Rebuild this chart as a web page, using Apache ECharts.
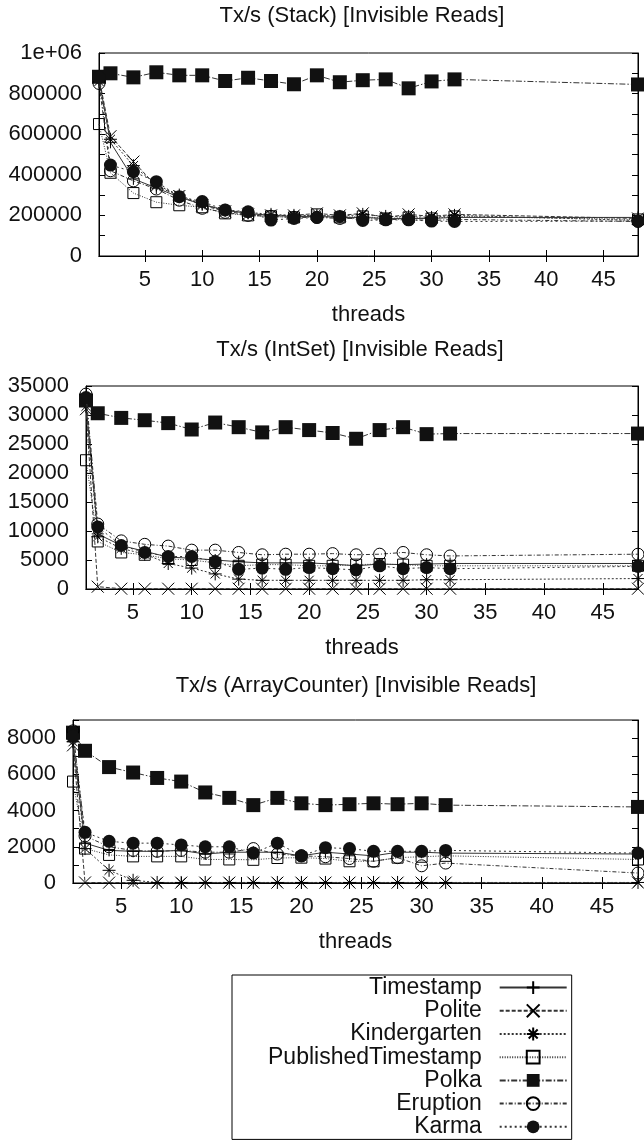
<!DOCTYPE html>
<html>
<head>
<meta charset="utf-8">
<script src="https://cdn.jsdelivr.net/npm/echarts@6/dist/echarts.min.js"></script>
<style>
html,body{margin:0;padding:0;background:#fff;}
#chart{width:644px;height:1140px;}
</style>
</head>
<body>
<div id="chart"></div>
<script>
// ---- data ----
const threads = [1, 2, 4, 6, 8, 10, 12, 14, 16, 18, 20, 22, 24, 26, 28, 30, 32, 48];
const seriesNames = ['Timestamp', 'Polite', 'Kindergarten', 'PublishedTimestamp', 'Polka', 'Eruption', 'Karma'];
const plotTitles = ['Tx/s (Stack) [Invisible Reads]', 'Tx/s (IntSet) [Invisible Reads]', 'Tx/s (ArrayCounter) [Invisible Reads]'];
const xAxisName = 'threads';
const xTicks = [5, 10, 15, 20, 25, 30, 35, 40, 45];

// Stack
const timestampStack = [870000, 560000, 380000, 335000, 290000, 255000, 225000, 210000, 200000, 195000, 195000, 190000, 190000, 185000, 185000, 185000, 190000, 190000];
const politeStack = [880000, 590000, 465000, 345000, 295000, 250000, 220000, 205000, 200000, 200000, 210000, 200000, 210000, 190000, 205000, 195000, 205000, 185000];
const kinderStack = [860000, 575000, 445000, 350000, 300000, 255000, 225000, 215000, 205000, 200000, 200000, 195000, 205000, 195000, 195000, 190000, 200000, 175000];
const pubStack = [650000, 410000, 310000, 265000, 250000, 240000, 210000, 200000, 195000, 190000, 205000, 190000, 195000, 185000, 190000, 185000, 195000, 180000];
const polkaStack = [883000, 900000, 880000, 905000, 890000, 890000, 862000, 878000, 862000, 846000, 890000, 856000, 866000, 870000, 826000, 860000, 870000, 845000];
const eruptionStack = [850000, 420000, 370000, 330000, 275000, 235000, 215000, 200000, 195000, 190000, 190000, 185000, 185000, 180000, 180000, 175000, 180000, 170000];
const karmaStack = [880000, 448000, 415000, 366000, 292000, 268000, 227000, 218000, 177000, 185000, 190000, 195000, 175000, 178000, 178000, 172000, 170000, 172000];

// IntSet
const timestampInt = [32000, 9500, 7500, 6500, 5500, 5300, 5000, 4700, 4500, 4500, 4500, 4300, 4000, 4300, 4200, 4300, 4400, 4400];
const politeInt = [31000, 400, 50, 50, 50, 50, 50, 50, 50, 50, 50, 50, 50, 50, 50, 50, 50, 50];
const kinderInt = [31500, 9000, 7000, 6000, 4400, 3600, 2600, 1700, 1500, 1500, 1500, 1500, 1500, 1500, 1500, 1600, 1600, 1800];
const pubInt = [22200, 8200, 6300, 5900, 5200, 5000, 4500, 4000, 4200, 4200, 4000, 4000, 4200, 4300, 4200, 4000, 4000, 4000];
const polkaInt = [32500, 30300, 29500, 29100, 28600, 27500, 28700, 27900, 27000, 27900, 27400, 26900, 25900, 27400, 27900, 26700, 26800, 26800];
const eruptionInt = [33600, 11200, 8300, 7700, 7400, 6700, 6700, 6300, 5900, 6000, 6000, 6100, 5900, 6000, 6300, 5900, 5700, 6000];
const karmaInt = [33000, 10700, 7500, 6300, 5600, 5600, 4700, 3400, 3600, 3400, 3700, 3500, 3300, 4000, 3500, 3700, 3500, 3900];

// ArrayCounter
const timestampArr = [7800, 2200, 1800, 1750, 1750, 1800, 1600, 1700, 1700, 1700, 1500, 1700, 1600, 1500, 1700, 1700, 1650, 1600];
const politeArr = [7600, 30, 20, 20, 20, 20, 20, 20, 20, 20, 20, 20, 20, 20, 20, 20, 20, 20];
const kinderArr = [7800, 1900, 700, 150, 30, 30, 30, 30, 30, 30, 30, 30, 30, 30, 30, 30, 30, 30];
const pubArr = [5600, 1900, 1550, 1470, 1470, 1470, 1300, 1300, 1280, 1380, 1400, 1350, 1200, 1200, 1400, 1450, 1500, 1300];
const polkaArr = [8300, 7300, 6400, 6100, 5800, 5600, 5000, 4700, 4300, 4700, 4400, 4300, 4350, 4400, 4350, 4400, 4300, 4200];
const eruptionArr = [8400, 2600, 2000, 1800, 1750, 1800, 1700, 1700, 1900, 1600, 1500, 1450, 1350, 1200, 1400, 950, 1100, 550];
const karmaArr = [8100, 2800, 2300, 2200, 2200, 2100, 2000, 2000, 1650, 2200, 1500, 1950, 1900, 1750, 1750, 1750, 1800, 1650];

// y-axis ticks and labels
const stackYTicks = [0, 100000, 200000, 300000, 400000, 500000, 600000, 700000, 800000, 900000, 1000000];
const stackYLabels = [0, 200000, 400000, 600000, 800000, 1000000];
const intYTicks = [0, 5000, 10000, 15000, 20000, 25000, 30000, 35000];
const intYLabels = [0, 5000, 10000, 15000, 20000, 25000, 30000, 35000];
const arrYTicks = [0, 1000, 2000, 3000, 4000, 5000, 6000, 7000, 8000, 9000];
const arrYLabels = [0, 2000, 4000, 6000, 8000];

// ---- presentation ----
const FONT = '"Liberation Sans", Arial, Helvetica, sans-serif';
const plots = [
  { vals: [timestampStack, politeStack, kinderStack, pubStack, polkaStack, eruptionStack, karmaStack], yMax: 1000000, yTicks: stackYTicks, yLabels: stackYLabels,
    grid: { left: 99, top: 53, width: 539, height: 203 }, titleTop: 5, titleX: 362 },
  { vals: [timestampInt, politeInt, kinderInt, pubInt, polkaInt, eruptionInt, karmaInt], yMax: 35000, yTicks: intYTicks, yLabels: intYLabels,
    grid: { left: 86, top: 386, width: 552, height: 203 }, titleTop: 339, titleX: 360 },
  { vals: [timestampArr, politeArr, kinderArr, pubArr, polkaArr, eruptionArr, karmaArr], yMax: 9000, yTicks: arrYTicks, yLabels: arrYLabels,
    grid: { left: 73, top: 720, width: 565, height: 163 }, titleTop: 675, titleX: 356 }
];

const LINE = '#333';
const styles = [
  { symbol: 'path://M6,0L6,12M0,6L12,6', size: 12, item: { color: 'transparent', borderColor: '#000', borderWidth: 1 }, line: 'solid' },
  { symbol: 'path://M0,0L12,12M12,0L0,12', size: 12, item: { color: 'transparent', borderColor: '#000', borderWidth: 1 }, line: [4, 2] },
  { symbol: 'path://M6,0L6,12M0,6L12,6M1.8,1.8L10.2,10.2M10.2,1.8L1.8,10.2', size: 13, item: { color: 'transparent', borderColor: '#000', borderWidth: 1 }, line: [2, 2] },
  { symbol: 'rect', size: 11, item: { color: 'transparent', borderColor: '#000', borderWidth: 1 }, line: [1, 1.5] },
  { symbol: 'rect', size: 14, item: { color: '#111', borderColor: '#111', borderWidth: 0 }, line: [6, 2, 1.5, 2] },
  { symbol: 'circle', size: 12, item: { color: 'transparent', borderColor: '#000', borderWidth: 1 }, line: [4, 2, 1, 2] },
  { symbol: 'circle', size: 13, item: { color: '#111', borderColor: '#111', borderWidth: 0 }, line: [2, 3] }
];

const grids = [], xAxes = [], yAxes = [], titles = [], series = [];
const axisLine = { show: true, lineStyle: { color: '#000', width: 1 } };
const tickStyle = { show: true, inside: true, length: 6, lineStyle: { color: '#000', width: 1 } };
const labelStyle = { fontSize: 22, color: '#111', fontFamily: FONT };

plots.forEach((p, i) => {
  grids.push(Object.assign({ show: true, borderColor: '#000', borderWidth: 1 }, p.grid));
  titles.push({ text: plotTitles[i], left: p.titleX, top: p.titleTop, textAlign: 'center', padding: 0,
    textStyle: { fontSize: 22, fontWeight: 'normal', color: '#111', fontFamily: FONT } });
});
// bottom x axes
plots.forEach((p, i) => {
  xAxes.push({ type: 'value', gridIndex: i, position: 'bottom', min: 1, max: 48,
    axisLine, splitLine: { show: false },
    axisTick: Object.assign({ customValues: xTicks }, tickStyle),
    axisLabel: Object.assign({ customValues: xTicks, margin: 13 }, labelStyle),
    name: xAxisName, nameLocation: 'middle', nameGap: 48,
    nameTextStyle: { fontSize: 22, color: '#111', fontFamily: FONT } });
});
// top mirror x axes
plots.forEach((p, i) => {
  xAxes.push({ type: 'value', gridIndex: i, position: 'top', min: 1, max: 48,
    axisLine, splitLine: { show: false },
    axisTick: Object.assign({ customValues: xTicks }, tickStyle),
    axisLabel: { show: false } });
});
// left y axes
plots.forEach((p, i) => {
  yAxes.push({ type: 'value', gridIndex: i, position: 'left', min: 0, max: p.yMax,
    axisLine, splitLine: { show: false },
    axisTick: Object.assign({ customValues: p.yTicks }, tickStyle),
    axisLabel: Object.assign({ customValues: p.yLabels, margin: 17,
      formatter: v => (v === 1000000 ? '1e+06' : String(v)) }, labelStyle) });
});
// right mirror y axes
plots.forEach((p, i) => {
  yAxes.push({ type: 'value', gridIndex: i, position: 'right', min: 0, max: p.yMax,
    axisLine, splitLine: { show: false },
    axisTick: Object.assign({ customValues: p.yTicks }, tickStyle),
    axisLabel: { show: false } });
});

plots.forEach((p, i) => {
  seriesNames.forEach((name, k) => {
    const st = styles[k];
    series.push({
      type: 'line', name, xAxisIndex: i, yAxisIndex: i,
      data: threads.map((t, j) => [t, p.vals[k][j]]),
      symbol: st.symbol, symbolSize: st.size, showAllSymbol: true,
      itemStyle: st.item,
      lineStyle: { color: LINE, width: 1, type: st.line },
      emphasis: { disabled: true }, silent: true, z: 2 + k
    });
  });
});

const chart = echarts.init(document.getElementById('chart'), null, { renderer: 'canvas' });
chart.setOption({
  animation: false,
  backgroundColor: '#fff',
  title: titles,
  grid: grids,
  xAxis: xAxes,
  yAxis: yAxes,
  legend: {
    data: seriesNames, orient: 'vertical', left: 232, top: 975, align: 'right',
    itemWidth: 67, itemHeight: 16, itemGap: 0, selectedMode: false,
    padding: [1, 4, 1, 36], borderColor: '#000', borderWidth: 1,
    formatter: n => n + '  ',
    textStyle: { fontSize: 23, color: '#111', fontFamily: FONT, lineHeight: 23.2 }
  },
  series
});
</script>
</body>
</html>
